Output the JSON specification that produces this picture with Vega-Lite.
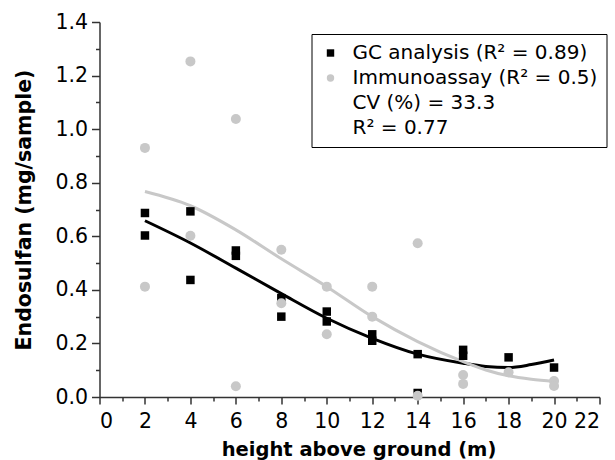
{
  "$schema": "https://vega.github.io/schema/vega-lite/v6.json",
  "width": 500,
  "height": 375,
  "autosize": "none",
  "padding": {"left": 99.5, "top": 22, "right": 15, "bottom": 63},
  "config": {
    "view": {"stroke": null},
    "axis": {
      "grid": false,
      "domainColor": "#333333",
      "tickColor": "#333333",
      "domainWidth": 1.5,
      "tickWidth": 1.5,
      "labelFont": "DejaVu Sans",
      "labelFontSize": 20.5,
      "labelColor": "#000000",
      "titleFont": "DejaVu Sans",
      "titleFontWeight": "bold",
      "titleColor": "#000000"
    }
  },
  "datasets": {
    "fits": [
      {"series": "GC", "height": 2, "value": 0.658},
      {"series": "GC", "height": 4, "value": 0.575},
      {"series": "GC", "height": 6, "value": 0.481},
      {"series": "GC", "height": 8, "value": 0.386},
      {"series": "GC", "height": 10, "value": 0.294},
      {"series": "GC", "height": 12, "value": 0.219},
      {"series": "GC", "height": 14, "value": 0.16},
      {"series": "GC", "height": 16, "value": 0.126},
      {"series": "GC", "height": 17, "value": 0.114},
      {"series": "GC", "height": 18, "value": 0.11},
      {"series": "GC", "height": 19, "value": 0.121},
      {"series": "GC", "height": 20, "value": 0.138},
      {"series": "Immunoassay", "height": 2, "value": 0.767},
      {"series": "Immunoassay", "height": 4, "value": 0.714},
      {"series": "Immunoassay", "height": 6, "value": 0.624},
      {"series": "Immunoassay", "height": 8, "value": 0.516},
      {"series": "Immunoassay", "height": 10, "value": 0.412},
      {"series": "Immunoassay", "height": 12, "value": 0.3},
      {"series": "Immunoassay", "height": 14, "value": 0.207},
      {"series": "Immunoassay", "height": 16, "value": 0.132},
      {"series": "Immunoassay", "height": 17, "value": 0.101},
      {"series": "Immunoassay", "height": 18, "value": 0.079},
      {"series": "Immunoassay", "height": 19, "value": 0.066},
      {"series": "Immunoassay", "height": 20, "value": 0.058}
    ],
    "points": [
      {"series": "GC analysis (R² = 0.89)", "height": 2, "value": 0.687},
      {"series": "GC analysis (R² = 0.89)", "height": 2, "value": 0.603},
      {"series": "GC analysis (R² = 0.89)", "height": 4, "value": 0.693},
      {"series": "GC analysis (R² = 0.89)", "height": 4, "value": 0.437},
      {"series": "GC analysis (R² = 0.89)", "height": 6, "value": 0.547},
      {"series": "GC analysis (R² = 0.89)", "height": 6, "value": 0.527},
      {"series": "GC analysis (R² = 0.89)", "height": 8, "value": 0.369},
      {"series": "GC analysis (R² = 0.89)", "height": 8, "value": 0.3},
      {"series": "GC analysis (R² = 0.89)", "height": 10, "value": 0.319},
      {"series": "GC analysis (R² = 0.89)", "height": 10, "value": 0.282},
      {"series": "GC analysis (R² = 0.89)", "height": 12, "value": 0.234},
      {"series": "GC analysis (R² = 0.89)", "height": 12, "value": 0.21},
      {"series": "GC analysis (R² = 0.89)", "height": 14, "value": 0.16},
      {"series": "GC analysis (R² = 0.89)", "height": 14, "value": 0.015},
      {"series": "GC analysis (R² = 0.89)", "height": 16, "value": 0.176},
      {"series": "GC analysis (R² = 0.89)", "height": 16, "value": 0.154},
      {"series": "GC analysis (R² = 0.89)", "height": 18, "value": 0.148},
      {"series": "GC analysis (R² = 0.89)", "height": 20, "value": 0.11},
      {"series": "Immunoassay (R² = 0.5)", "height": 2, "value": 0.93},
      {"series": "Immunoassay (R² = 0.5)", "height": 2, "value": 0.412},
      {"series": "Immunoassay (R² = 0.5)", "height": 4, "value": 1.253},
      {"series": "Immunoassay (R² = 0.5)", "height": 4, "value": 0.602},
      {"series": "Immunoassay (R² = 0.5)", "height": 6, "value": 1.038},
      {"series": "Immunoassay (R² = 0.5)", "height": 6, "value": 0.04},
      {"series": "Immunoassay (R² = 0.5)", "height": 8, "value": 0.55},
      {"series": "Immunoassay (R² = 0.5)", "height": 8, "value": 0.35},
      {"series": "Immunoassay (R² = 0.5)", "height": 10, "value": 0.412},
      {"series": "Immunoassay (R² = 0.5)", "height": 10, "value": 0.234},
      {"series": "Immunoassay (R² = 0.5)", "height": 12, "value": 0.412},
      {"series": "Immunoassay (R² = 0.5)", "height": 12, "value": 0.3},
      {"series": "Immunoassay (R² = 0.5)", "height": 14, "value": 0.574},
      {"series": "Immunoassay (R² = 0.5)", "height": 14, "value": 0.005},
      {"series": "Immunoassay (R² = 0.5)", "height": 16, "value": 0.082},
      {"series": "Immunoassay (R² = 0.5)", "height": 16, "value": 0.049},
      {"series": "Immunoassay (R² = 0.5)", "height": 18, "value": 0.092},
      {"series": "Immunoassay (R² = 0.5)", "height": 20, "value": 0.06},
      {"series": "Immunoassay (R² = 0.5)", "height": 20, "value": 0.041}
    ]
  },
  "layer": [
    {
      "data": {"name": "fits"},
      "mark": {"type": "line", "strokeWidth": 3, "interpolate": "monotone"},
      "encoding": {
        "x": {
          "field": "height", "type": "quantitative",
          "scale": {"domain": [0, 22], "nice": false, "zero": false},
          "axis": {
            "orient": "bottom",
            "values": [0, 2, 4, 6, 8, 10, 12, 14, 16, 18, 20, 22],
            "tickSize": 7, "labelPadding": 7,
            "title": "height above ground (m)", "titleFontSize": 19.5,
            "titlePadding": 9, "titleX": 259
          }
        },
        "y": {
          "field": "value", "type": "quantitative",
          "scale": {"domain": [0, 1.4], "nice": false},
          "axis": {
            "orient": "left",
            "values": [0, 0.2, 0.4, 0.6, 0.8, 1.0, 1.2, 1.4],
            "format": ".1f",
            "tickSize": 8, "labelPadding": 4,
            "title": "Endosulfan (mg/sample)", "titleFontSize": 20.5,
            "titlePadding": 20
          }
        },
        "stroke": {
          "field": "series", "type": "nominal",
          "scale": {"domain": ["GC", "Immunoassay"], "range": ["#000000", "#c8c8c8"]},
          "legend": null
        }
      }
    },
    {
      "data": {"name": "points"},
      "mark": {"type": "point", "filled": true, "opacity": 1},
      "encoding": {
        "x": {
          "field": "height", "type": "quantitative",
          "scale": {"domain": [0, 22], "nice": false, "zero": false},
          "axis": {
            "orient": "bottom",
            "values": [1, 3, 5, 7, 9, 11, 13, 15, 17, 19, 21],
            "tickSize": 4, "labels": false, "domain": false, "title": null
          }
        },
        "y": {
          "field": "value", "type": "quantitative",
          "scale": {"domain": [0, 1.4], "nice": false},
          "axis": {
            "orient": "left",
            "values": [0.1, 0.3, 0.5, 0.7, 0.9, 1.1, 1.3],
            "tickSize": 4, "labels": false, "domain": false, "title": null
          }
        },
        "size": {
          "field": "series", "type": "ordinal",
          "scale": {"domain": ["GC analysis (R² = 0.89)", "Immunoassay (R² = 0.5)"], "range": [72, 100]},
          "legend": null
        },
        "color": {
          "field": "series", "type": "nominal",
          "scale": {
            "domain": ["GC analysis (R² = 0.89)", "Immunoassay (R² = 0.5)", "CV (%) = 33.3", "R² = 0.77"],
            "range": ["#000000", "#c8c8c8", "transparent", "transparent"]
          },
          "legend": {
            "title": null,
            "orient": "none",
            "legendX": 212,
            "legendY": 12,
            "strokeColor": "#000000",
            "fillColor": "#ffffff",
            "padding": 9,
            "symbolSize": 55,
            "symbolStrokeWidth": 0,
            "labelFont": "DejaVu Sans",
            "labelFontSize": 20,
            "labelColor": "#000000",
            "labelOffset": 12,
            "labelLimit": 400,
            "rowPadding": 5
          }
        },
        "shape": {
          "field": "series", "type": "nominal",
          "scale": {
            "domain": ["GC analysis (R² = 0.89)", "Immunoassay (R² = 0.5)", "CV (%) = 33.3", "R² = 0.77"],
            "range": ["square", "circle", "circle", "circle"]
          },
          "legend": {
            "title": null,
            "orient": "none",
            "legendX": 212,
            "legendY": 12,
            "strokeColor": "#000000",
            "fillColor": "#ffffff",
            "padding": 9,
            "symbolSize": 55,
            "symbolStrokeWidth": 0,
            "labelFont": "DejaVu Sans",
            "labelFontSize": 20,
            "labelColor": "#000000",
            "labelOffset": 12,
            "labelLimit": 400,
            "rowPadding": 5
          }
        }
      }
    }
  ],
  "resolve": {"axis": {"x": "independent", "y": "independent"}}
}
